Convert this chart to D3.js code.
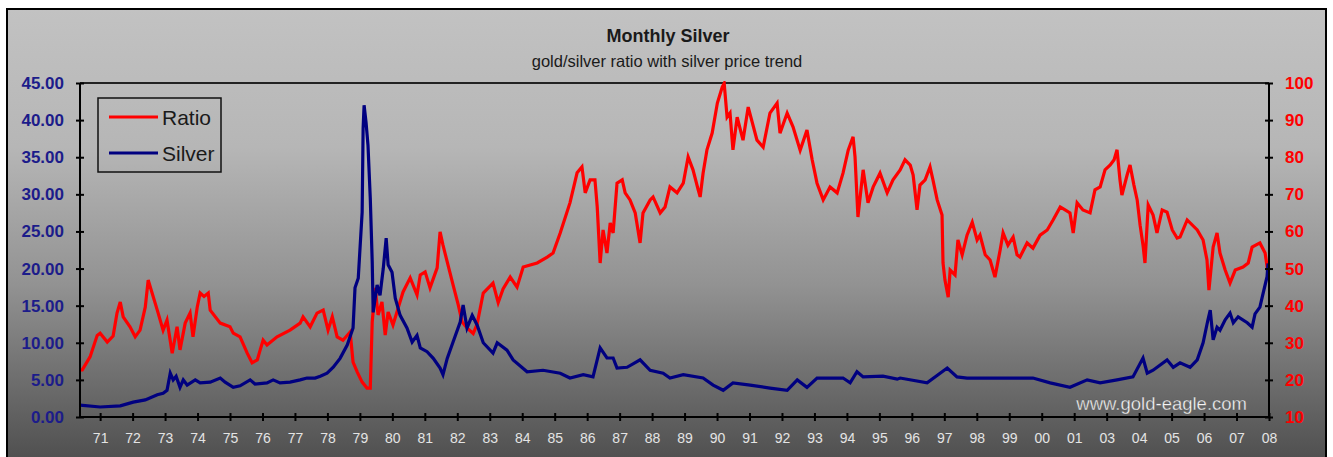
<!DOCTYPE html>
<html>
<head>
<meta charset="utf-8">
<script src="https://cdn.jsdelivr.net/npm/d3@7"></script>
<style>
  body { margin: 0; background: #fff; }
  svg { display: block; font-family: "Liberation Sans", Arial, sans-serif; }
</style>
</head>
<body>
<svg id="chart" width="1333" height="457"></svg>
<script>
// category axis labels (the source chart skips "02")
const tickLabels = ["71","72","73","74","75","76","77","78","79","80","81","82","83","84","85","86","87","88","89","90",
  "91","92","93","94","95","96","97","98","99","00","01","03","04","05","06","07","08"];
const silverTicks = [0, 5, 10, 15, 20, 25, 30, 35, 40, 45];
const ratioTicks = [10, 20, 30, 40, 50, 60, 70, 80, 90, 100];

// [axis position in years, gold/silver ratio]
const ratio = [
  [1970.38,22.7],[1970.45,22.7],[1970.69,26.2],[1970.91,32.0],[1971.00,32.6],[1971.22,30.2],[1971.40,31.8],
  [1971.52,38.0],[1971.62,41.0],[1971.71,37.0],[1971.92,34.3],[1972.08,31.6],[1972.23,33.4],[1972.39,39.6],
  [1972.48,46.9],[1972.76,38.8],[1972.94,33.4],[1973.06,36.1],[1973.22,27.2],[1973.37,34.3],[1973.46,28.1],
  [1973.62,35.3],[1973.77,38.0],[1973.86,31.6],[1973.99,39.6],[1974.08,43.4],[1974.20,42.5],[1974.33,43.4],
  [1974.39,38.8],[1974.70,35.3],[1975.00,34.3],[1975.10,32.6],[1975.31,31.6],[1975.53,27.2],[1975.68,24.6],
  [1975.84,25.4],[1975.93,28.1],[1976.02,30.7],[1976.14,29.4],[1976.45,31.6],[1976.85,33.4],[1977.16,35.3],
  [1977.25,37.0],[1977.47,34.3],[1977.68,38.0],[1977.87,38.8],[1978.02,33.4],[1978.15,37.0],[1978.30,31.6],
  [1978.48,30.7],[1978.70,32.9],[1978.79,24.8],[1978.92,22.1],[1979.07,19.4],[1979.22,17.8],[1979.32,17.8],
  [1979.38,35.6],[1979.47,44.8],[1979.56,37.5],[1979.68,41.0],[1979.78,32.1],[1979.87,38.3],[1980.02,34.8],
  [1980.18,39.4],[1980.33,43.7],[1980.55,47.5],[1980.76,42.9],[1980.86,48.3],[1981.01,49.1],[1981.16,44.8],
  [1981.38,50.2],[1981.47,59.9],[1981.56,56.3],[1981.69,51.8],[1981.87,45.6],[1982.03,40.2],[1982.15,35.6],
  [1982.30,34.0],[1982.49,32.5],[1982.61,35.0],[1982.80,43.4],[1983.10,46.1],[1983.26,40.8],[1983.41,44.5],
  [1983.63,47.7],[1983.84,45.0],[1984.03,50.4],[1984.46,51.5],[1984.77,53.1],[1984.95,54.2],[1985.17,59.6],
  [1985.47,67.7],[1985.69,75.8],[1985.84,77.4],[1985.94,70.4],[1986.09,73.9],[1986.24,73.9],[1986.31,66.6],
  [1986.40,51.5],[1986.49,60.4],[1986.61,54.2],[1986.71,62.3],[1986.80,59.6],[1986.92,73.0],[1987.08,73.9],
  [1987.17,70.4],[1987.32,68.5],[1987.48,65.0],[1987.63,56.9],[1987.72,65.0],[1987.94,68.5],[1988.03,69.3],
  [1988.25,65.0],[1988.40,66.6],[1988.55,72.0],[1988.77,70.4],[1988.96,73.0],[1989.11,80.1],[1989.26,76.6],
  [1989.42,71.2],[1989.48,69.3],[1989.57,75.7],[1989.69,82.0],[1989.85,86.5],[1990.01,94.6],[1990.16,98.9],
  [1990.22,99.9],[1990.31,90.8],[1990.40,91.9],[1990.49,82.0],[1990.62,90.8],[1990.80,84.6],[1990.96,93.5],
  [1991.23,84.6],[1991.42,82.7],[1991.63,91.9],[1991.85,94.6],[1991.94,86.5],[1992.16,91.9],[1992.34,88.2],
  [1992.56,81.9],[1992.77,87.3],[1992.93,79.3],[1993.08,73.0],[1993.27,68.5],[1993.48,72.0],[1993.70,70.4],
  [1993.88,75.7],[1994.04,81.9],[1994.19,85.5],[1994.25,80.1],[1994.34,63.9],[1994.50,76.6],[1994.65,67.7],
  [1994.81,72.0],[1995.02,75.7],[1995.24,70.4],[1995.42,73.9],[1995.64,76.6],[1995.79,79.3],[1995.95,77.9],
  [1996.04,75.2],[1996.16,65.8],[1996.25,72.5],[1996.41,73.9],[1996.56,77.4],[1996.65,73.9],[1996.78,68.5],
  [1996.93,64.4],[1996.96,51.5],[1997.02,46.9],[1997.12,42.3],[1997.18,49.6],[1997.33,48.3],[1997.42,57.7],
  [1997.55,53.7],[1997.70,59.0],[1997.86,62.5],[1998.01,57.7],[1998.10,59.0],[1998.26,53.7],[1998.41,52.3],
  [1998.56,47.7],[1998.72,55.0],[1998.81,59.6],[1998.96,56.3],[1999.12,58.5],[1999.24,53.7],[1999.33,53.1],
  [1999.55,56.9],[1999.73,55.5],[1999.95,59.0],[2000.17,60.4],[2000.35,63.1],[2000.57,66.6],[2000.72,65.8],
  [2000.87,65.0],[2000.97,59.6],[2001.09,67.7],[2001.27,65.8],[2001.49,65.0],[2001.64,71.2],[2001.80,72.0],
  [2001.95,76.6],[2002.11,77.9],[2002.23,79.3],[2002.32,82.0],[2002.41,73.9],[2002.47,69.8],[2002.63,75.2],
  [2002.72,77.9],[2002.84,72.5],[2002.94,68.5],[2003.03,61.7],[2003.12,56.3],[2003.18,51.5],[2003.28,67.1],
  [2003.43,64.4],[2003.55,59.6],[2003.71,65.8],[2003.86,65.2],[2004.02,60.4],[2004.17,58.2],[2004.26,58.5],
  [2004.48,63.1],[2004.79,60.4],[2004.97,57.7],[2005.09,52.3],[2005.15,44.2],[2005.28,55.8],[2005.40,59.6],
  [2005.49,54.2],[2005.65,49.6],[2005.80,46.1],[2005.96,49.6],[2006.20,50.4],[2006.36,51.5],[2006.48,55.8],
  [2006.72,56.9],[2006.88,54.2],[2006.97,48.8]
];

// [axis position in years, silver price]
const silver = [
  [1970.38,1.6],[1971.00,1.35],[1971.62,1.5],[1972.02,2.0],[1972.39,2.3],[1972.76,3.0],[1972.94,3.2],
  [1973.06,3.6],[1973.16,5.9],[1973.25,5.0],[1973.34,5.5],[1973.46,4.0],[1973.56,5.0],[1973.68,4.3],
  [1973.93,5.0],[1974.08,4.6],[1974.39,4.7],[1974.70,5.25],[1974.85,4.7],[1975.10,4.0],[1975.31,4.2],
  [1975.62,5.0],[1975.77,4.45],[1976.14,4.6],[1976.33,5.0],[1976.54,4.6],[1976.85,4.7],[1977.16,5.0],
  [1977.37,5.25],[1977.62,5.25],[1977.78,5.5],[1977.99,5.9],[1978.18,6.7],[1978.39,7.9],[1978.61,9.7],
  [1978.79,12.0],[1978.85,17.4],[1978.95,18.7],[1979.07,27.6],[1979.10,38.9],[1979.13,42.0],[1979.19,39.7],
  [1979.25,36.6],[1979.32,29.5],[1979.38,20.9],[1979.41,14.1],[1979.53,17.8],[1979.62,16.4],[1979.72,20.0],
  [1979.81,24.1],[1979.87,20.5],[1979.99,19.5],[1980.09,16.0],[1980.24,13.7],[1980.45,12.0],[1980.61,10.1],
  [1980.76,11.0],[1980.86,9.3],[1981.07,8.8],[1981.26,7.9],[1981.47,6.6],[1981.56,5.7],[1981.69,7.9],
  [1981.87,10.1],[1982.09,12.8],[1982.18,15.1],[1982.30,12.0],[1982.46,13.7],[1982.61,12.4],[1982.80,10.0],
  [1983.10,8.6],[1983.23,10.0],[1983.53,9.0],[1983.72,7.7],[1984.15,6.1],[1984.64,6.3],[1985.17,5.9],
  [1985.47,5.25],[1985.88,5.7],[1986.18,5.4],[1986.40,9.3],[1986.61,7.95],[1986.80,7.95],[1986.92,6.6],
  [1987.23,6.7],[1987.63,7.7],[1987.94,6.3],[1988.34,5.9],[1988.55,5.25],[1988.96,5.7],[1989.57,5.25],
  [1989.88,4.3],[1990.19,3.6],[1990.49,4.6],[1991.02,4.3],[1991.63,3.9],[1992.16,3.6],[1992.47,5.0],
  [1992.77,4.0],[1993.08,5.25],[1993.88,5.25],[1994.10,4.6],[1994.31,6.1],[1994.50,5.4],[1995.11,5.5],
  [1995.55,5.1],[1995.64,5.25],[1996.47,4.6],[1997.09,6.6],[1997.39,5.4],[1997.70,5.25],[1998.72,5.25],
  [1999.73,5.25],[2000.26,4.6],[2000.87,4.0],[2001.40,5.0],[2001.80,4.6],[2002.32,5.0],[2002.81,5.4],
  [2003.12,7.95],[2003.25,5.9],[2003.43,6.3],[2003.86,7.7],[2004.05,6.7],[2004.26,7.3],[2004.57,6.7],
  [2004.79,7.7],[2004.97,10.0],[2005.12,13.1],[2005.19,14.4],[2005.28,10.4],[2005.40,12.1],[2005.49,11.7],
  [2005.65,13.1],[2005.80,14.0],[2005.90,12.7],[2006.05,13.5],[2006.33,12.7],[2006.48,12.1],[2006.57,13.9],
  [2006.72,14.8],[2006.82,16.7],[2006.94,18.9],[2006.97,20.7]
];

const plot = { left: 80, right: 1269, top: 83, bottom: 417 };

const svg = d3.select("#chart");

// background gradient of the chart area
const defs = svg.append("defs");
const grad = defs.append("linearGradient")
  .attr("id", "bg").attr("x1", 0).attr("y1", 0).attr("x2", 0).attr("y2", 1);
grad.append("stop").attr("offset", "0%").attr("stop-color", "#c2c2c2");
grad.append("stop").attr("offset", "30%").attr("stop-color", "#b6b6b6");
grad.append("stop").attr("offset", "60%").attr("stop-color", "#929292");
grad.append("stop").attr("offset", "100%").attr("stop-color", "#4c4c4c");

defs.append("clipPath").attr("id", "plotClip")
  .append("rect")
  .attr("x", plot.left).attr("y", plot.top - 2)
  .attr("width", plot.right - plot.left).attr("height", plot.bottom - plot.top + 2);

svg.append("rect")
  .attr("x", 7).attr("y", 9).attr("width", 1319).attr("height", 460)
  .attr("fill", "url(#bg)").attr("stroke", "#000").attr("stroke-width", 2);

// scales
const x = d3.scaleLinear().domain([1970.38, 2007]).range([plot.left, plot.right]);
const yL = d3.scaleLinear().domain([0, 45]).range([plot.bottom, plot.top]);
const yR = d3.scaleLinear().domain([10, 100]).range([plot.bottom, plot.top]);
const tickYears = tickLabels.map((d, i) => 1971 + i);

// plot frame top line
svg.append("line")
  .attr("x1", plot.left).attr("x2", plot.right)
  .attr("y1", plot.top).attr("y2", plot.top)
  .attr("stroke", "#222").attr("stroke-width", 2);

// lines
const g = svg.append("g").attr("clip-path", "url(#plotClip)");
g.append("path")
  .datum(ratio)
  .attr("fill", "none").attr("stroke", "#ff0000").attr("stroke-width", 3.2)
  .attr("stroke-linejoin", "miter")
  .attr("d", d3.line().x(d => x(d[0])).y(d => yR(d[1])));
g.append("path")
  .datum(silver)
  .attr("fill", "none").attr("stroke", "#000080").attr("stroke-width", 3.2)
  .attr("stroke-linejoin", "miter")
  .attr("d", d3.line().x(d => x(d[0])).y(d => yL(d[1])));

// axes, with ticks crossing the axis line
function styleAxis(sel) {
  sel.select(".domain").attr("stroke", "#000").attr("stroke-width", 2);
  sel.selectAll(".tick line").attr("stroke", "#000").attr("stroke-width", 2);
}

const axL = svg.append("g")
  .attr("transform", `translate(${plot.left},0)`)
  .call(d3.axisLeft(yL).tickValues(silverTicks).tickFormat(d3.format(".2f")).tickSize(4).tickPadding(12));
axL.selectAll(".tick line").attr("x2", 4).attr("x1", -4);
axL.selectAll(".tick text")
  .attr("fill", "#1c1c8a").attr("font-size", 17).attr("font-weight", "bold")
  .attr("font-family", "'Liberation Sans', Arial, sans-serif");
styleAxis(axL);
axL.select(".domain").attr("d", `M0,${plot.top}V${plot.bottom}`);

const axR = svg.append("g")
  .attr("transform", `translate(${plot.right},0)`)
  .call(d3.axisRight(yR).tickValues(ratioTicks).tickSize(4).tickPadding(12));
axR.selectAll(".tick line").attr("x2", 4).attr("x1", -4);
axR.selectAll(".tick text")
  .attr("fill", "#ff0000").attr("font-size", 17).attr("font-weight", "bold")
  .attr("font-family", "'Liberation Sans', Arial, sans-serif");
styleAxis(axR);
axR.select(".domain").attr("d", `M0,${plot.top}V${plot.bottom}`);

const axB = svg.append("g")
  .attr("transform", `translate(0,${plot.bottom})`)
  .call(d3.axisBottom(x).tickValues(tickYears).tickFormat((d, i) => tickLabels[i]).tickSize(4).tickPadding(12));
axB.selectAll(".tick line").attr("y2", 4).attr("y1", -4);
axB.selectAll(".tick text")
  .attr("fill", "#e4e4e4").attr("font-size", 14)
  .attr("font-family", "'Liberation Sans', Arial, sans-serif");
styleAxis(axB);
axB.select(".domain").attr("d", `M${plot.left},0H${plot.right}`);

// titles
svg.append("text")
  .attr("x", 668).attr("y", 42).attr("text-anchor", "middle")
  .attr("font-size", 18).attr("font-weight", "bold").attr("fill", "#1a1a1a")
  .text("Monthly Silver");
svg.append("text")
  .attr("x", 667).attr("y", 67).attr("text-anchor", "middle")
  .attr("font-size", 16.5).attr("fill", "#1a1a1a")
  .text("gold/silver ratio with silver price trend");

// legend
const legend = svg.append("g").attr("transform", "translate(98,98)");
legend.append("rect")
  .attr("width", 123).attr("height", 74)
  .attr("fill", "none").attr("stroke", "#111").attr("stroke-width", 1.5);
const legendItems = [["Ratio", "#ff0000"], ["Silver", "#000080"]];
legendItems.forEach(([name, color], i) => {
  const ly = 19 + i * 36;
  legend.append("line")
    .attr("x1", 11).attr("x2", 60).attr("y1", ly).attr("y2", ly)
    .attr("stroke", color).attr("stroke-width", 3.2);
  legend.append("text")
    .attr("x", 64).attr("y", ly + 7.5)
    .attr("font-size", 21).attr("fill", "#1a1a1a")
    .text(name);
});

// watermark
svg.append("text")
  .attr("x", 1247).attr("y", 410).attr("text-anchor", "end")
  .attr("font-size", 18.5).attr("fill", "#f4f4f4")
  .attr("stroke", "#555").attr("stroke-width", 0.3)
  .text("www.gold-eagle.com");
</script>
</body>
</html>
